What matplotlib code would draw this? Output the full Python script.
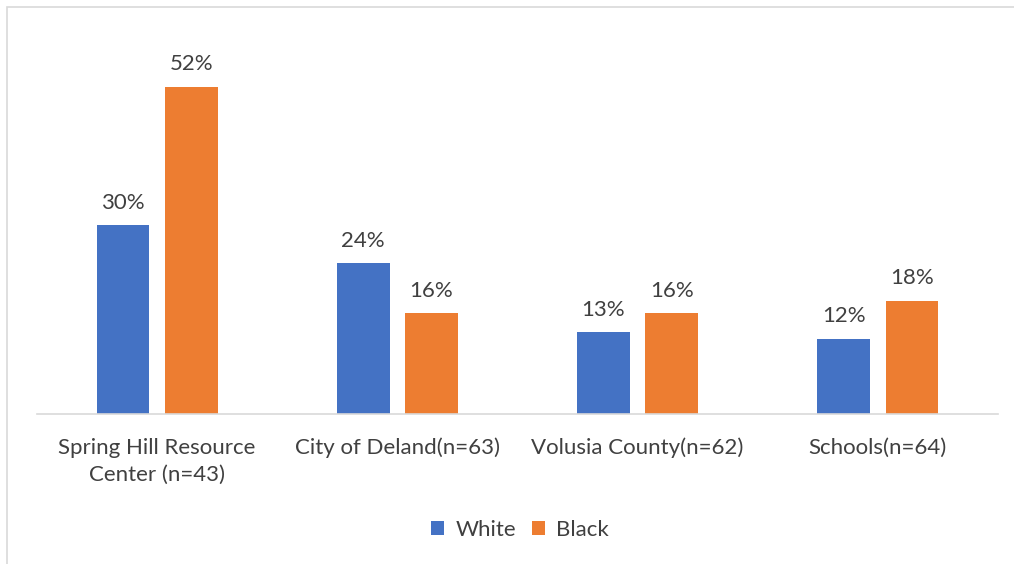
import matplotlib
matplotlib.use('Agg')
from matplotlib import pyplot as plt
from matplotlib.patches import Rectangle
import numpy as np

categories = ['Spring Hill Resource\nCenter (n=43)', 'City of Deland(n=63)',
              'Volusia County(n=62)', 'Schools(n=64)']
white = [30, 24, 13, 12]
black = [52, 16, 16, 18]

plt.rcParams['font.family'] = ['Lato', 'DejaVu Sans']
TEXT = '#404040'
FS = 16

fig = plt.figure(figsize=(10.14, 5.64), dpi=100)
# outer chart frame, cut off at the right and bottom
fig.patches.append(Rectangle((7 / 1014, -0.1), 1.2, (557 / 564) + 0.1,
                             transform=fig.transFigure, fill=False,
                             edgecolor='#d9d9d9', linewidth=1.2))

ax = fig.add_axes([37 / 1014, 150 / 564, 961 / 1014, 378 / 564])
x = np.arange(len(categories))
w = 0.22
off = 0.142
b1 = ax.bar(x - off, white, w, color='#4472c4', label='White')
b2 = ax.bar(x + off, black, w, color='#ed7d31', label='Black')

for bars, vals in ((b1, white), (b2, black)):
    for r, v in zip(bars, vals):
        ax.annotate('%d%%' % v, (r.get_x() + r.get_width() / 2, v),
                    xytext=(0, 9), textcoords='offset points',
                    ha='center', va='bottom', fontsize=FS, color=TEXT)

ax.set_xlim(-0.5, 3.5)
ax.set_ylim(0, 60.1)
ax.set_xticks(x)
ax.set_xticklabels(categories, fontsize=FS, color=TEXT, linespacing=1.45)
ax.tick_params(axis='x', length=0, pad=17)
ax.set_yticks([])
for s in ('top', 'right', 'left'):
    ax.spines[s].set_visible(False)
ax.spines['bottom'].set_color('#d9d9d9')
ax.spines['bottom'].set_linewidth(1.2)

leg = fig.legend(loc='center', bbox_to_anchor=(520 / 1014, 1 - 530 / 564),
                 ncol=2, frameon=False, fontsize=FS, handlelength=0.6,
                 handleheight=0.6, handletextpad=0.5, columnspacing=0.7)
for t in leg.get_texts():
    t.set_color(TEXT)

fig.savefig('out.png', dpi=100)
